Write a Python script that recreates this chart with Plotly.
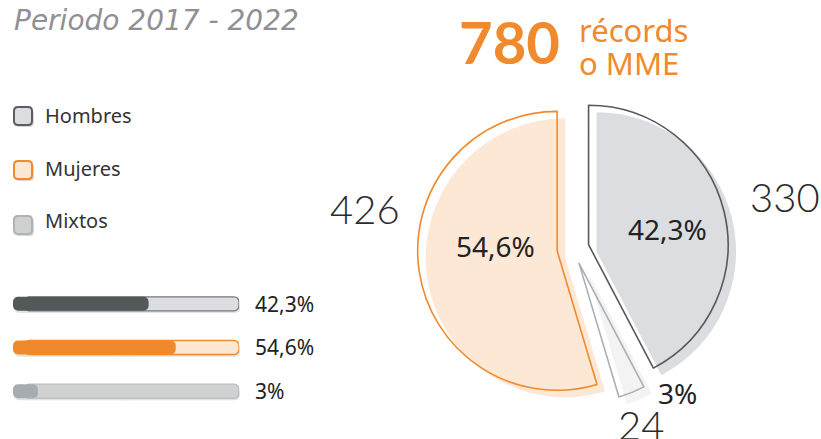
import plotly.graph_objects as go

W, H = 821, 439

# ---- data ----
categories = ["Hombres", "Mujeres", "Mixtos"]
records = [330, 426, 24]
pct_labels = ["42,3%", "54,6%", "3%"]
bar_fill = [60, 72, 11]          # filled part of each progress bar (% of track)
title_text = "Periodo 2017 - 2022"
total_text = "780"

# ---- styles ----
fill_cols = ["#dcdde0", "#fde8d6", "#f3f3f3"]
line_cols = ["#57595b", "#f08a2c", "#a9b0b4"]
swatch_fill = ["#dcdde0", "#fde8d6", "#cfd0d0"]
swatch_line = ["#5b5e60", "#f08a2c", "#aeb3b6"]
bar_dark = ["#525a59", "#f0892c", "#a6acaf"]
track_fill = ["#dcdddf", "#fde8d6", "#d0d1d1"]
track_line = ["#74787b", "#f08a2c", "#b8bdc0"]
ORANGE = "#f08a2c"

def px(x):
    return x / W

def py(y):
    return 1 - y / H

# pie order: clockwise from 12 o'clock -> Hombres, Mixtos, Mujeres
order = [0, 2, 1]
p_labels = [categories[i] for i in order]
p_vals = [records[i] for i in order]

cx, cy, half = 573, 248.5, 155.5
sx, sy = 8, 7

fig = go.Figure()

# shadow/fill pie (offset)
fig.add_trace(go.Pie(
    labels=p_labels, values=p_vals, sort=False, direction="clockwise", rotation=0,
    pull=0.115, textinfo="none", hoverinfo="skip", showlegend=False,
    marker=dict(colors=[fill_cols[i] for i in order], line=dict(width=0)),
    domain=dict(x=[px(cx + sx - half), px(cx + sx + half)],
                y=[py(cy + sy + half), py(cy + sy - half)]),
))
# outline pie
fig.add_trace(go.Pie(
    labels=p_labels, values=p_vals, sort=False, direction="clockwise", rotation=0,
    pull=0.115, textinfo="none", showlegend=False,
    marker=dict(colors=["rgba(0,0,0,0)"] * 3,
                line=dict(color=[line_cols[i] for i in order], width=1.6)),
    domain=dict(x=[px(cx - half), px(cx + half)],
                y=[py(cy + half), py(cy - half)]),
))

# ---- progress bars ----
bx0, bx1 = 13, 239
by_top, by_bot = 282, 413
sh = 2
# shadow (axes x2/y2, drawn first); two overlapping halves so both ends are rounded
for b, v in [(55, -55), (45, 55)]:
    fig.add_trace(go.Bar(y=categories, x=[v] * 3, base=[b] * 3, orientation="h",
                         marker=dict(color="#e2e2e2", cornerradius=5, line=dict(width=0)),
                         width=0.33, xaxis="x2", yaxis="y2", hoverinfo="skip", showlegend=False))
# track (axes x3/y3, drawn on top)
fig.add_trace(go.Bar(y=categories, x=[95] * 3, base=[5] * 3, orientation="h",
                     marker=dict(color=track_fill, cornerradius=5,
                                 line=dict(color=track_line, width=1.3)),
                     width=0.32, xaxis="x3", yaxis="y3", hoverinfo="skip", showlegend=False))
# fill (drawn from value back to 0 so the left end is rounded)
fig.add_trace(go.Bar(y=categories, x=[-v for v in bar_fill], base=bar_fill, orientation="h",
                     marker=dict(color=bar_dark, cornerradius=5, line=dict(width=0)),
                     width=0.32, xaxis="x3", yaxis="y3",
                     hovertemplate="%{y}<extra></extra>", showlegend=False))

fig.update_layout(
    width=W, height=H, autosize=False,
    margin=dict(l=0, r=0, t=0, b=0),
    paper_bgcolor="white", plot_bgcolor="rgba(0,0,0,0)",
    barmode="overlay",
    xaxis2=dict(domain=[px(bx0 + 1), px(bx1 + 1)], range=[0, 100], visible=False,
                fixedrange=True, anchor="y2"),
    yaxis2=dict(domain=[py(by_bot + sh), py(by_top + sh)], range=[2.5, -0.5], visible=False,
                fixedrange=True, anchor="x2", type="category",
                categoryorder="array", categoryarray=categories),
    xaxis3=dict(domain=[px(bx0), px(bx1)], range=[0, 100], visible=False,
                fixedrange=True, anchor="y3"),
    yaxis3=dict(domain=[py(by_bot), py(by_top)], range=[2.5, -0.5], visible=False,
                fixedrange=True, anchor="x3", type="category",
                categoryorder="array", categoryarray=categories),
    xaxis=dict(visible=False), yaxis=dict(visible=False),
)

FONT = "Noto Sans"
ann = []

def add_text(x, y, text, xanchor, font):
    ann.append(dict(x=px(x), y=py(y), xref="paper", yref="paper", text=text, showarrow=False,
                    xanchor=xanchor, yanchor="middle", font=font))

add_text(12, 21, title_text, "left",
         dict(family="DejaVu Sans", size=28, color="#8f8f94", style="italic"))
add_text(457, 41, f"<b>{total_text}</b>", "left", dict(family="Lato", size=58, color=ORANGE))
add_text(577, 30, "récords", "left", dict(family=FONT, size=31, color=ORANGE))
add_text(577, 63, "o MME", "left", dict(family=FONT, size=31, color=ORANGE))

# counts outside the pie
count_pos = [(785, 197), (365, 209), (641, 425)]
for (x, y), v in zip(count_pos, records):
    add_text(x, y, str(v), "center", dict(family="Lato", size=40, color="#2b2b2b", weight=300))
# percentage labels on pie
pct_pos = [(667, 229), (495, 246), (677, 393)]
for (x, y), t in zip(pct_pos, pct_labels):
    add_text(x, y, t, "center", dict(family=FONT, size=28, color="#222222"))

# legend
leg_y = [116, 168, 220]
sw_dy = [0, 2, 5]
shapes = []

def rrect(x0, y0, x1, y1, r):
    pts = [
        f"M{px(x0 + r)},{py(y0)}", f"L{px(x1 - r)},{py(y0)}", f"Q{px(x1)},{py(y0)} {px(x1)},{py(y0 + r)}",
        f"L{px(x1)},{py(y1 - r)}", f"Q{px(x1)},{py(y1)} {px(x1 - r)},{py(y1)}",
        f"L{px(x0 + r)},{py(y1)}", f"Q{px(x0)},{py(y1)} {px(x0)},{py(y1 - r)}",
        f"L{px(x0)},{py(y0 + r)}", f"Q{px(x0)},{py(y0)} {px(x0 + r)},{py(y0)}", "Z"]
    return " ".join(pts)

for i, (cat, y) in enumerate(zip(categories, leg_y)):
    yc = y + sw_dy[i]
    shapes.append(dict(type="path", xref="paper", yref="paper",
                       path=rrect(15, yc - 7, 34, yc + 11, 4), fillcolor="#d9d9d9", line=dict(width=0)))
    shapes.append(dict(type="path", xref="paper", yref="paper",
                       path=rrect(14, yc - 9, 32, yc + 9, 4), fillcolor=swatch_fill[i],
                       line=dict(color=swatch_line[i], width=2)))
    add_text(43, y, cat, "left", dict(family=FONT, size=20, color="#333333"))

# bar value labels
bar_y = [304, 347, 391]
for y, t in zip(bar_y, pct_labels):
    add_text(253, y, t, "left", dict(family=FONT, size=21, color="#222222"))

fig.update_layout(annotations=ann, shapes=shapes)
fig.write_html("out.html", config={"displayModeBar": False},
               post_script="document.body.style.margin='0';document.body.style.padding='0';"
                           "document.body.style.overflow='hidden';")
